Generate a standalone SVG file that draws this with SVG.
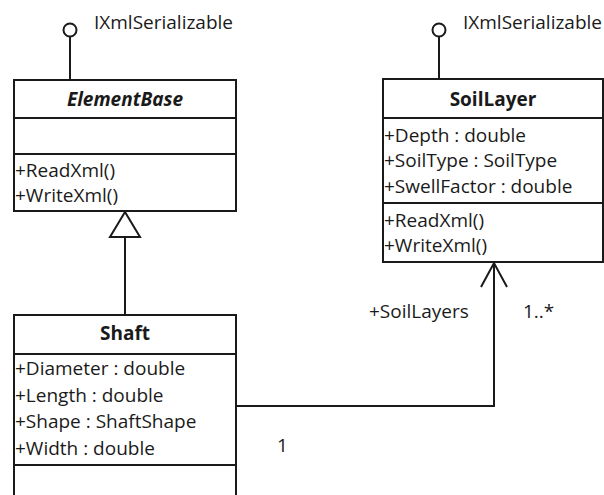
<svg xmlns="http://www.w3.org/2000/svg" width="604" height="495" viewBox="0 0 604 495">
  <style>
    text { font-family: "Open Sans", "Liberation Sans", sans-serif; font-size: 19px; fill: #1a1a1a; }
    .title { font-weight: bold; text-anchor: middle; }
    .italic { font-style: italic; }
    .box { fill: #ffffff; stroke: #1a1a1a; stroke-width: 2; }
    .line { fill: none; stroke: #1a1a1a; stroke-width: 2; }
  </style>

  <!-- ElementBase class with interface lollipop -->
  <g id="ElementBase">
    <line class="line" x1="70" y1="37" x2="70" y2="80"/>
    <circle class="line" cx="70" cy="30" r="6.5"/>
    <text x="94" y="29">IXmlSerializable</text>
    <rect class="box" x="14" y="80" width="222" height="131"/>
    <line class="line" x1="14" y1="118" x2="236" y2="118"/>
    <line class="line" x1="14" y1="154" x2="236" y2="154"/>
    <text class="title italic" x="125" y="106">ElementBase</text>
    <text x="15" y="177">+ReadXml()</text>
    <text x="15" y="202">+WriteXml()</text>
  </g>

  <!-- SoilLayer class with interface lollipop -->
  <g id="SoilLayer">
    <line class="line" x1="439" y1="37" x2="439" y2="79"/>
    <circle class="line" cx="439" cy="30" r="6.5"/>
    <text x="463" y="29">IXmlSerializable</text>
    <rect class="box" x="383" y="79" width="220" height="183"/>
    <line class="line" x1="383" y1="118" x2="603" y2="118"/>
    <line class="line" x1="383" y1="203" x2="603" y2="203"/>
    <text class="title" x="493" y="106">SoilLayer</text>
    <text x="384" y="142">+Depth : double</text>
    <text x="384" y="167">+SoilType : SoilType</text>
    <text x="384" y="193">+SwellFactor : double</text>
    <text x="384" y="227">+ReadXml()</text>
    <text x="384" y="252">+WriteXml()</text>
  </g>

  <!-- Shaft class -->
  <g id="Shaft">
    <rect class="box" x="14" y="315" width="222" height="190"/>
    <line class="line" x1="14" y1="354" x2="236" y2="354"/>
    <line class="line" x1="14" y1="465" x2="236" y2="465"/>
    <text class="title" x="125" y="340">Shaft</text>
    <text x="15" y="375">+Diameter : double</text>
    <text x="15" y="402">+Length : double</text>
    <text x="15" y="428">+Shape : ShaftShape</text>
    <text x="15" y="455">+Width : double</text>
  </g>

  <!-- Connectors -->
  <g id="connectors">
    <!-- generalization Shaft -> ElementBase -->
    <line class="line" x1="125" y1="237" x2="125" y2="315"/>
    <polygon class="box" points="125,212 110,237 140,237"/>
    <!-- association Shaft -> SoilLayer -->
    <polyline class="line" points="236,406 494,406 494,263"/>
    <polyline class="line" points="481,287 494,263 507,287"/>
    <text x="369" y="318">+SoilLayers</text>
    <text x="523" y="318">1..*</text>
    <text x="277" y="452">1</text>
  </g>
</svg>
